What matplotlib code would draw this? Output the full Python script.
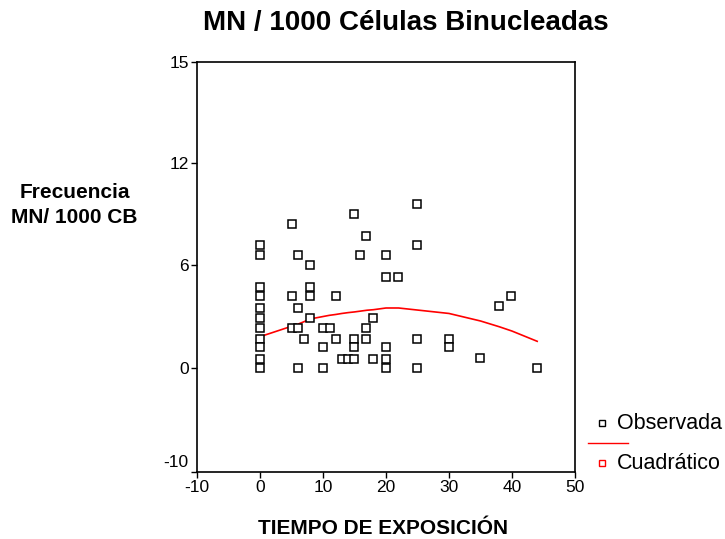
import numpy as np
import matplotlib
matplotlib.use("Agg")
from matplotlib import pyplot as plt
from matplotlib.lines import Line2D
import matplotlib.transforms as mtransforms

plt.rcParams['font.family'] = ['Liberation Sans', 'DejaVu Sans']
plt.rcParams['axes.unicode_minus'] = False

# Datos observados (tiempo de exposicion, frecuencia MN)
tiempo = [0, 0, 0, 0, 0, 0, 0, 0, 0, 0, 0,
          5.1, 5.1, 5.1, 6.1, 6.1, 6.1, 6.1, 7.0, 7.9, 7.9, 7.9, 7.9,
          10, 10, 10, 11.1, 12.1, 12.1, 13, 13.9, 15, 15, 15, 15,
          15.9, 16.8, 16.8, 16.8, 18, 18, 20, 20, 20, 20, 20, 21.9,
          25, 25, 25, 25, 30, 30, 35, 37.9, 39.9, 43.9]
frecuencia = [7.2, 6.6, 4.7, 4.2, 3.5, 2.9, 2.3, 1.7, 1.2, 0.53, 0,
              8.4, 4.2, 2.3, 6.6, 3.5, 2.3, 0, 1.7, 6.0, 4.7, 4.2, 2.9,
              2.3, 1.2, 0, 2.3, 4.2, 1.7, 0.53, 0.53, 9.0, 1.7, 1.2, 0.53,
              6.6, 7.7, 2.3, 1.7, 2.9, 0.53, 6.6, 5.3, 1.2, 0.53, 0, 5.3,
              9.6, 7.2, 1.7, 0, 1.7, 1.2, 0.57, 3.6, 4.2, 0]

# Curva cuadratica
curva_x = [0, 5, 6, 7, 8, 10, 11, 12, 13, 14, 15, 16, 17, 18, 20, 22,
           25, 30, 35, 38, 40, 44]
curva_y = [1.82, 2.43, 2.55, 2.70, 2.86, 3.00, 3.07, 3.12, 3.18, 3.23,
           3.27, 3.32, 3.37, 3.40, 3.50, 3.50, 3.38, 3.18, 2.74, 2.40,
           2.15, 1.55]

# Ticks del eje Y tal como aparecen (espaciado igual)
y_ticks = [-6.1, 0, 6, 12, 17.9]
y_labels = ['-10', '0', '6', '12', '15']
x_ticks = [-10, 0, 10, 20, 30, 40, 50]

fig = plt.figure(figsize=(7.25, 5.39), dpi=100)
ax = fig.add_axes([0.2717, 0.1243, 0.5214, 0.7607])

ax.plot(curva_x, curva_y, color="red", lw=1.2, zorder=2)
ax.plot(tiempo, frecuencia, ls="none", marker="s", markersize=5.5,
        markerfacecolor="white", markeredgecolor="black",
        markeredgewidth=1.1, zorder=3)

ax.set_xlim(-10, 50)
ax.set_ylim(-6.1, 17.9)
ax.set_xticks(x_ticks)
ax.set_yticks(y_ticks)
ax.set_yticklabels(y_labels)
ax.tick_params(direction="out", length=4, width=1, labelsize=12.5, pad=2)
for s in ax.spines.values():
    s.set_linewidth(1.2)

# el "-10" del eje Y va un poco por encima del eje
lab = ax.get_yticklabels()[0]
lab.set_transform(lab.get_transform() +
                  mtransforms.ScaledTranslation(0, 8 / 72, fig.dpi_scale_trans))

fig.text(0.56, 0.958, "MN / 1000 Células Binucleadas", ha="center",
         va="center", fontsize=20, fontweight="bold")
fig.text(0.103, 0.620, "Frecuencia\nMN/ 1000 CB", ha="center", va="center",
         fontsize=15, fontweight="bold", linespacing=1.4)
fig.text(0.528, 0.020, "TIEMPO DE EXPOSICIÓN", ha="center", va="center",
         fontsize=15, fontweight="bold")

# Leyenda
fig.add_artist(Line2D([0.830], [0.215], ls="none", marker="s", markersize=5,
                      markerfacecolor="white", markeredgecolor="black",
                      markeredgewidth=1, transform=fig.transFigure))
fig.text(0.851, 0.215, "Observada", va="center", fontsize=15.5)
fig.add_artist(Line2D([0.811, 0.866], [0.178, 0.178], color="red", lw=1,
                      transform=fig.transFigure))
fig.add_artist(Line2D([0.830], [0.141], ls="none", marker="s", markersize=5,
                      markerfacecolor="white", markeredgecolor="red",
                      markeredgewidth=1, transform=fig.transFigure))
fig.text(0.851, 0.141, "Cuadrático", va="center", fontsize=15.5)

fig.savefig("out.png", dpi=100)
